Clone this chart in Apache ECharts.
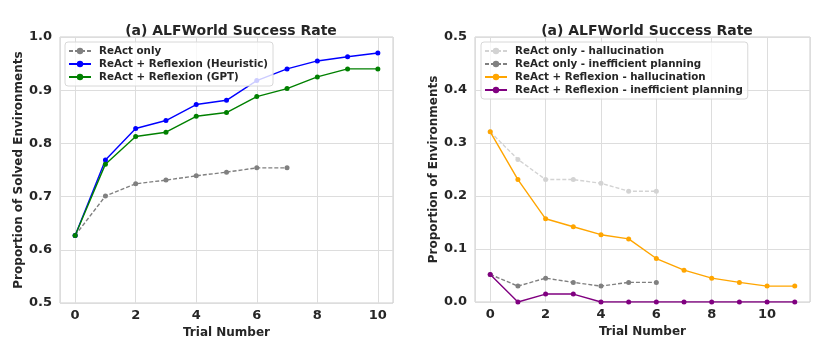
<!DOCTYPE html>
<html><head><meta charset="utf-8">
<script src="https://cdn.jsdelivr.net/npm/echarts@6/dist/echarts.min.js"></script>
<style>html,body{margin:0;padding:0;background:#fff}#c{width:826px;height:344px}</style>
</head><body><div id="c"></div>
<script>
// Left panel data
const leftTrials = [0,1,2,3,4,5,6,7,8,9,10];
const reactOnly = [0.627,0.701,0.724,0.731,0.739,0.746,0.754,0.754];
const reflexionHeuristic = [0.627,0.769,0.828,0.843,0.873,0.881,0.918,0.940,0.955,0.963,0.970];
const reflexionGPT = [0.627,0.761,0.813,0.821,0.851,0.858,0.888,0.903,0.925,0.940,0.940];
// Right panel data
const rightTrials = [0,1,2,3,4,5,6,7,8,9,10,11];
const reactHalluc = [0.321,0.269,0.231,0.231,0.224,0.209,0.209];
const reactIneff = [0.052,0.030,0.045,0.037,0.030,0.037,0.037];
const reflexHalluc = [0.321,0.231,0.157,0.142,0.127,0.119,0.082,0.060,0.045,0.037,0.030,0.030];
const reflexIneff = [0.052,0.000,0.015,0.015,0.000,0.000,0.000,0.000,0.000,0.000,0.000,0.000];

const titleText = '(a) ALFWorld Success Rate';
const FONT = 'DejaVu Sans';
const TXT = '#262626';

function pts(xs, ys){ return ys.map((v,i)=>[xs[i], v]); }
function mkSeries(name, xs, ys, color, dashed, xi, yi){
  return {name, type:'line', xAxisIndex:xi, yAxisIndex:yi, data:pts(xs,ys),
    symbol:'circle', symbolSize:5, showSymbol:true,
    itemStyle:{color}, lineStyle:{color, width:1.4, type: dashed?[4,2]:'solid'},
    emphasis:{disabled:true}, animation:false, z: dashed?2:3};
}
function xAx(gi, min, max){
  return {type:'value', gridIndex:gi, min, max,
    name:'Trial Number', nameLocation:'middle', nameGap:20,
    nameTextStyle:{fontFamily:FONT, fontWeight:'bold', fontSize:12, color:TXT},
    axisLine:{show:false}, axisTick:{show:false},
    axisLabel:{fontFamily:FONT, fontWeight:'bold', fontSize:13, color:TXT, margin:6,
      showMinLabel:false, showMaxLabel:false, formatter:v=>String(Math.round(v))},
    splitLine:{show:true, lineStyle:{color:'#dddddd', width:1}}};
}
function yAx(gi, min, max, name, gap){
  return {type:'value', gridIndex:gi, min, max, interval:0.1,
    name, nameLocation:'middle', nameGap:gap, nameRotate:90,
    nameTextStyle:{fontFamily:FONT, fontWeight:'bold', fontSize:12, color:TXT},
    axisLine:{show:false}, axisTick:{show:false},
    axisLabel:{fontFamily:FONT, fontWeight:'bold', fontSize:13, color:TXT, margin:8,
      formatter:v=>v.toFixed(1)},
    splitLine:{show:true, lineStyle:{color:'#dddddd', width:1}}};
}
const legendCommon = {orient:'vertical', itemWidth:22, itemHeight:8, itemGap:3,
  padding:[4,5,4,3], borderColor:'#d8d8d8', borderWidth:1, borderRadius:3,
  backgroundColor:'rgba(255,255,255,0.8)',
  textStyle:{fontFamily:FONT, fontWeight:'bold', fontSize:10.3, color:TXT, padding:[0,0,0,3]}};

const chart = echarts.init(document.getElementById('c'), null, {renderer:'canvas'});
chart.setOption({
  backgroundColor:'#fff', animation:false,
  title:[
    {text:titleText, left:226, top:19, textAlign:'center', textStyle:{fontFamily:FONT, fontWeight:'bold', fontSize:14, color:TXT}},
    {text:titleText, left:642, top:19, textAlign:'center', textStyle:{fontFamily:FONT, fontWeight:'bold', fontSize:14, color:TXT}}
  ],
  grid:[
    {left:60, top:37, width:333, height:266, show:true, borderColor:'#cccccc', borderWidth:1},
    {left:475, top:37, width:335, height:265, show:true, borderColor:'#cccccc', borderWidth:1}
  ],
  xAxis:[xAx(0,-0.5,10.5), xAx(1,-0.55,11.55)],
  yAxis:[yAx(0,0.5,1.0,'Proportion of Solved Environments',29), yAx(1,0,0.5,'Proportion of Environments',28)],
  legend:[
    Object.assign({left:65, top:42, data:['ReAct only','ReAct + Reflexion (Heuristic)','ReAct + Reflexion (GPT)']}, legendCommon),
    Object.assign({left:481, top:42, data:['ReAct only - hallucination','ReAct only - inefficient planning','ReAct + Reflexion - hallucination','ReAct + Reflexion - inefficient planning']}, legendCommon)
  ],
  series:[
    mkSeries('ReAct only', leftTrials, reactOnly, '#808080', true, 0, 0),
    mkSeries('ReAct + Reflexion (Heuristic)', leftTrials, reflexionHeuristic, '#0000ff', false, 0, 0),
    mkSeries('ReAct + Reflexion (GPT)', leftTrials, reflexionGPT, '#008000', false, 0, 0),
    mkSeries('ReAct only - hallucination', rightTrials, reactHalluc, '#d3d3d3', true, 1, 1),
    mkSeries('ReAct only - inefficient planning', rightTrials, reactIneff, '#808080', true, 1, 1),
    mkSeries('ReAct + Reflexion - hallucination', rightTrials, reflexHalluc, '#ffa500', false, 1, 1),
    mkSeries('ReAct + Reflexion - inefficient planning', rightTrials, reflexIneff, '#800080', false, 1, 1)
  ]
});
</script></body></html>
